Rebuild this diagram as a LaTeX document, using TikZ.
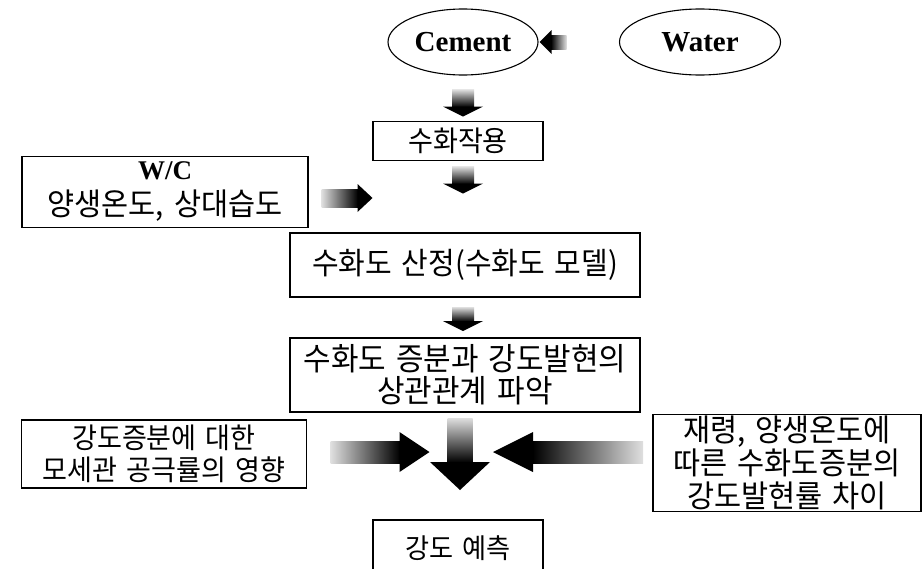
\documentclass[tikz,border=0pt]{standalone}
\usepackage{fontspec}
\setmainfont{Liberation Serif}
\newfontfamily\kr{Noto Sans CJK KR}[WordSpace=1.5, FakeStretch=0.95]
\usetikzlibrary{shapes.geometric,calc}

% block arrows: #1 centre, #2 shaft half width, #3 head half width, #4 length, #5 head length
\newcommand\arrR[5]{%
  \shade[left color=gray!25, right color=black] ($(#1)+(-#4/2,-#2)$) rectangle ($(#1)+(#4/2-#5+0.5,#2)$);
  \fill ($(#1)+(#4/2-#5,-#3)$) -- ($(#1)+(#4/2,0)$) -- ($(#1)+(#4/2-#5,#3)$) -- cycle;}
\newcommand\arrL[5]{%
  \shade[right color=gray!25, left color=black] ($(#1)+(#4/2,-#2)$) rectangle ($(#1)+(-#4/2+#5-0.5,#2)$);
  \fill ($(#1)+(-#4/2+#5,-#3)$) -- ($(#1)+(-#4/2,0)$) -- ($(#1)+(-#4/2+#5,#3)$) -- cycle;}
\newcommand\arrD[5]{%
  \shade[top color=gray!25, bottom color=black] ($(#1)+(-#2,-#4/2)$) rectangle ($(#1)+(#2,#4/2-#5+0.5)$);
  \fill ($(#1)+(-#3,#4/2-#5)$) -- ($(#1)+(0,#4/2)$) -- ($(#1)+(#3,#4/2-#5)$) -- cycle;}

\tikzset{
  box/.style={draw, line width=1.1pt, inner sep=2pt, inner ysep=0pt, align=center},
  ksize/.style={font=\kr\fontsize{#1}{32}\selectfont},
  oval/.style={draw, ellipse, line width=1.1pt, inner sep=0pt,
    font=\bfseries\fontsize{29}{30}\selectfont},
}

\begin{document}
\begin{tikzpicture}[x=1pt,y=-1pt]
\useasboundingbox (0,0) rectangle (923,568);

\node[oval, minimum width=150pt, minimum height=66pt] (cement) at (463,42) {Cement};
\node[oval, minimum width=161pt, minimum height=66pt] (water) at (700,42) {Water};
\node[box, ksize=28.5, minimum width=170pt, minimum height=39pt] (hyd) at (458,141) {수화작용};
\node[box, ksize=31, minimum width=286pt, minimum height=71pt] (wc) at (165,192)
  {{\rmfamily\bfseries\fontsize{27}{28}\selectfont W/C}\\[4pt]양생온도, 상대습도};
\node[box, ksize=30.5, minimum width=350pt, minimum height=64pt] (est) at (465,265) {수화도 산정(수화도 모델)};
\node[box, ksize=31.5, minimum width=350pt, minimum height=74pt] (corr) at (465,375)
  {수화도 증분과 강도발현의\\상관관계 파악};
\node[box, ksize=28.5, minimum width=285pt, minimum height=68pt] (infl) at (164,454)
  {강도증분에 대한\\모세관 공극률의 영향};
\node[box, font=\kr\fontsize{31}{33}\selectfont, minimum width=268pt, minimum height=97pt] (age) at (787,463)
  {재령, 양생온도에\\따른 수화도증분의\\강도발현률 차이};
\node[box, ksize=27.5, minimum width=170pt, minimum height=56pt] (pred) at (458,548) {강도 예측};

% connector centres
\coordinate (wtoc) at (553,42);
\coordinate (ctoh) at (463,103);
\coordinate (htoe) at (463,180);
\coordinate (wctoh) at (347,198);
\coordinate (etoc) at (463,319);
\coordinate (itop) at (380,452);
\coordinate (ctop) at (460,454);
\coordinate (atop) at (568,452);

\arrL{wtoc}{7}{12}{27}{12}
\arrD{ctoh}{11}{20}{27}{10}
\arrD{htoe}{11}{20}{27}{10}
\arrR{wctoh}{9}{14}{51}{15}
\arrD{etoc}{11}{20}{24}{10}
\arrR{itop}{11}{20}{99}{30}
\arrD{ctop}{12.5}{30}{72}{28}
\arrL{atop}{11}{20}{150}{40}
\end{tikzpicture}
\end{document}
